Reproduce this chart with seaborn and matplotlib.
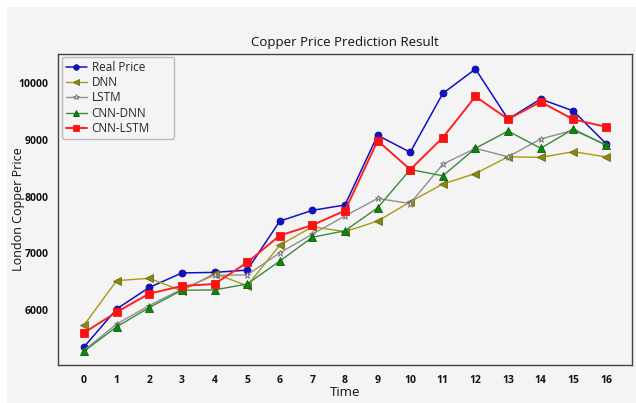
import numpy as np
import pandas as pd
import matplotlib
matplotlib.use("Agg")
import matplotlib.pyplot as plt
from matplotlib.patches import Rectangle
import seaborn as sns

time_steps = list(range(17))

real_price = [5350, 6020, 6400, 6655, 6665, 6705, 7570, 7760, 7855, 9085,
              8785, 9825, 10255, 9370, 9725, 9515, 8940]
dnn = [5735, 6520, 6560, 6340, 6645, 6430, 7145, 7470, 7385, 7570,
       7910, 8225, 8410, 8705, 8695, 8795, 8705]
lstm = [5290, 5755, 6080, 6370, 6615, 6620, 7010, 7340, 7660, 7970,
        7880, 8575, 8855, 8705, 9020, 9175, 8920]
cnn_dnn = [5275, 5705, 6045, 6350, 6355, 6460, 6865, 7285, 7400, 7805,
           8480, 8370, 8855, 9160, 8855, 9195, 8910]
cnn_lstm = [5600, 5965, 6290, 6425, 6460, 6840, 7315, 7500, 7755, 8990,
            8480, 9045, 9770, 9370, 9675, 9365, 9235]

series_names = ["Real Price", "DNN", "LSTM", "CNN-DNN", "CNN-LSTM"]
series_values = [real_price, dnn, lstm, cnn_dnn, cnn_lstm]

styles = {
    "Real Price": dict(color="#1010c8", marker="o", markersize=5, lw=1.1,
                       mfc="#1010c8", mec="#101090"),
    "DNN": dict(color="#a89a10", marker="<", markersize=5.5, lw=1.0,
                mfc="#8a8a10", mec="#6a6a10"),
    "LSTM": dict(color="#909090", marker="*", markersize=5, lw=1.0,
                 mfc="#e8e8e8", mec="#707070"),
    "CNN-DNN": dict(color="#3a8a3a", marker="^", markersize=5.5, lw=1.0,
                    mfc="#0a8a0a", mec="#0a5a0a"),
    "CNN-LSTM": dict(color="#ff2020", marker="s", markersize=5.5, lw=1.4,
                     mfc="#ff1010", mec="#ff1010"),
}

sns.set_style("white")
plt.rcParams["font.family"] = ["Open Sans", "DejaVu Sans"]

bg = "#f4f4f4"
W, H = 636, 403
fig = plt.figure(figsize=(W / 100, H / 100), dpi=100, facecolor=bg)
# thin white border along the top and left of the canvas
fig.add_artist(Rectangle((0, 1 - 7 / H), 1, 7 / H, transform=fig.transFigure,
                         facecolor="white", edgecolor="none", zorder=-1))
fig.add_artist(Rectangle((0, 0), 7 / W, 1, transform=fig.transFigure,
                         facecolor="white", edgecolor="none", zorder=-1))

ax = fig.add_axes([58 / W, 1 - 365 / H, (632 - 58) / W, (365 - 54) / H])
ax.set_facecolor(bg)

for name, vals in zip(series_names, series_values):
    st = styles[name]
    df = pd.DataFrame({"Time": time_steps, "Price": vals})
    sns.lineplot(data=df, x="Time", y="Price", ax=ax, color=st["color"],
                 linewidth=st["lw"], marker=st["marker"],
                 markersize=st["markersize"], markerfacecolor=st["mfc"],
                 markeredgecolor=st["mec"], markeredgewidth=0.6,
                 label=name)

ax.set_xlim(-0.8, 16.8)
ax.set_ylim(5030, 10520)
ax.set_xticks(time_steps)
ax.set_yticks([6000, 7000, 8000, 9000, 10000])
ax.tick_params(axis="both", direction="out", length=3, width=0.8,
               colors="#333333", labelsize=7.5, pad=4)
for lbl in ax.get_xticklabels() + ax.get_yticklabels():
    lbl.set_fontweight("bold")
    lbl.set_color("#111111")

for sp in ax.spines.values():
    sp.set_color("#444444")
    sp.set_linewidth(1.0)

ax.set_title("Copper Price Prediction Result", fontsize=9.5, color="#111111", pad=6)
ax.set_xlabel("Time", fontsize=9.5, color="#111111")
ax.set_ylabel("London Copper Price", fontsize=9, color="#111111")
ax.xaxis.set_label_coords(0.5, -(386 - 365) / (365 - 54))
ax.yaxis.set_label_coords(-(58 - 25) / (632 - 58), 0.5)

leg = ax.legend(loc="upper left", bbox_to_anchor=(0.007, 0.55, 0.195, 0.44),
                mode="expand", borderaxespad=0, fontsize=8.5, frameon=True,
                fancybox=True, borderpad=0.3, labelspacing=0.2,
                handlelength=1.8, handletextpad=0.4, markerscale=0.8)
leg.get_frame().set_facecolor(bg)
leg.get_frame().set_edgecolor("#bbbbbb")
leg.get_frame().set_alpha(1.0)

fig.savefig("out.png", dpi=100, facecolor=bg)
